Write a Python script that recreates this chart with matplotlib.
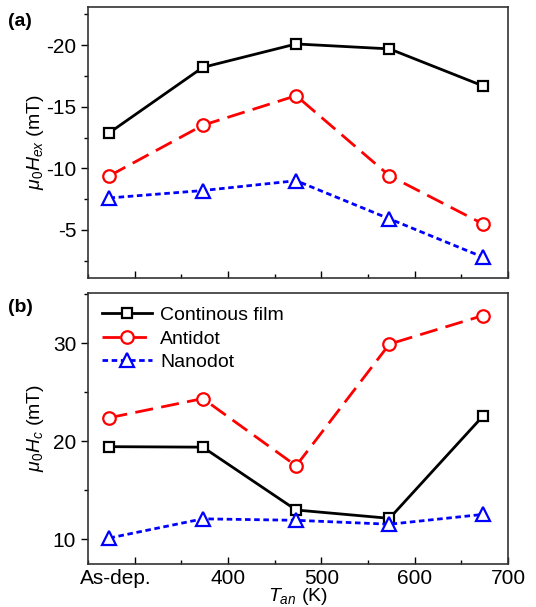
import matplotlib.pyplot as plt
from matplotlib.ticker import MultipleLocator

plt.rcParams['font.family'] = ['Liberation Sans', 'DejaVu Sans']
plt.rcParams['mathtext.fontset'] = 'custom'
plt.rcParams['mathtext.it'] = 'Liberation Sans:italic'
plt.rcParams['mathtext.rm'] = 'Liberation Sans'
plt.rcParams['axes.unicode_minus'] = False

# annealing temperature (K); the first point is the as-deposited sample
t_an = [273, 373, 473, 573, 673]

# exchange bias field (mT)
hex_film = [-12.9, -18.2, -20.1, -19.7, -16.7]
hex_antidot = [-9.4, -13.5, -15.9, -9.4, -5.5]
hex_nanodot = [-7.6, -8.2, -9.0, -5.9, -2.8]

# coercive field (mT)
hc_film = [19.45, 19.4, 13.0, 12.15, 22.55]
hc_antidot = [22.4, 24.35, 17.5, 29.9, 32.8]
hc_nanodot = [10.15, 12.1, 11.95, 11.55, 12.55]

xticks = [400, 500, 600, 700]

styles = [
    dict(color='black', ls='-', marker='s', ms=7.5, label='Continous film'),
    dict(color='red', ls=(0, (6.5, 3)), marker='o', ms=9, label='Antidot'),
    dict(color='blue', ls=(0, (2, 1.3)), marker='^', ms=9.5, label='Nanodot'),
]

fig = plt.figure(figsize=(5.36, 6.07), dpi=100)
ax1 = fig.add_axes([88 / 536, 1 - 278 / 607, 420 / 536, 271 / 607])
ax2 = fig.add_axes([88 / 536, 1 - 564 / 607, 420 / 536, 271 / 607])

for ax, series in [(ax1, [hex_film, hex_antidot, hex_nanodot]),
                   (ax2, [hc_film, hc_antidot, hc_nanodot])]:
    for y, st in zip(series, styles):
        ax.plot(t_an, y, lw=2, ms=st['ms'], mfc='white', mew=1.6,
                mec=st['color'], color=st['color'], ls=st['ls'],
                marker=st['marker'], label=st['label'])
    ax.set_xlim(250, 700)
    ax.xaxis.set_major_locator(MultipleLocator(100))
    ax.xaxis.set_minor_locator(MultipleLocator(50))
    ax.tick_params(axis='x', which='both', direction='in', labelsize=15)
    ax.tick_params(axis='y', which='both', direction='out', labelsize=15)
    ax.tick_params(which='major', length=5, width=1)
    ax.tick_params(which='minor', length=3, width=1)
    for sp in ax.spines.values():
        sp.set_linewidth(1.2)
        sp.set_color('#333333')

# top panel: exchange bias, drawn with the negative values upward
ax1.set_ylim(-1.1, -23.1)
ax1.yaxis.set_major_locator(MultipleLocator(5))
ax1.yaxis.set_minor_locator(MultipleLocator(2.5))
ax1.set_yticks([-20, -15, -10, -5])
ax1.set_xticklabels([])
ax1.set_ylabel(r'$\mu_0H_{ex}$ (mT)', fontsize=14)
ax1.yaxis.set_label_coords(-0.1, 0.5)
fig.text(8 / 536, 1 - 22 / 607, '(a)', fontsize=14, fontweight='bold',
         va='center')

# bottom panel: coercivity
ax2.set_ylim(7.5, 35.1)
ax2.yaxis.set_major_locator(MultipleLocator(10))
ax2.yaxis.set_minor_locator(MultipleLocator(5))
ax2.set_xticks([300] + xticks)
ax2.set_xticklabels([''] + [str(v) for v in xticks])
ax2.text(280, -0.018, 'As-dep.', transform=ax2.get_xaxis_transform(),
         ha='center', va='top', fontsize=15)
ax2.set_ylabel(r'$\mu_0H_c$ (mT)', fontsize=14)
ax2.yaxis.set_label_coords(-0.1, 0.5)
ax2.set_xlabel(r'$T_{an}$ (K)', fontsize=14, labelpad=-1)
fig.text(8 / 536, 1 - 308 / 607, '(b)', fontsize=14, fontweight='bold',
         va='center')
ax2.legend(loc='upper left', frameon=False, fontsize=14, handlelength=2.6,
           handletextpad=0.4, labelspacing=0.3, borderaxespad=0.3,
           bbox_to_anchor=(0.0, 1.0))

fig.savefig('out.png', dpi=100)
